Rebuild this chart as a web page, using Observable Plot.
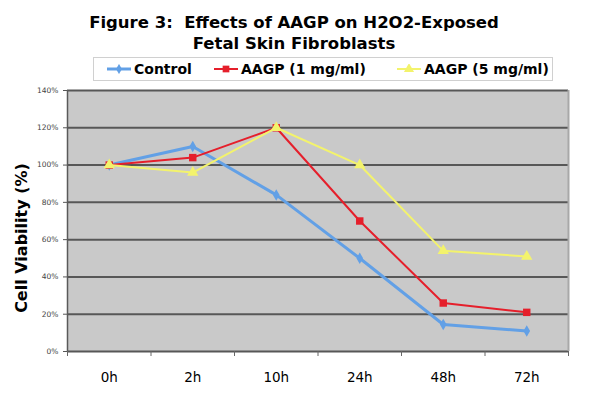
<!DOCTYPE html>
<html><head><meta charset="utf-8">
<script src="https://cdn.jsdelivr.net/npm/d3@7"></script>
<script src="https://cdn.jsdelivr.net/npm/@observablehq/plot@0.6"></script>
<style>
body{margin:0;background:#fff;font-family:"DejaVu Sans",Verdana,sans-serif;}
#wrap{position:relative;width:603px;height:396px;overflow:hidden;}
#title{position:absolute;left:0;top:12px;width:588px;text-align:center;font-weight:bold;font-size:16.5px;line-height:21px;color:#000;}
#legend{position:absolute;left:93px;top:57px;width:460px;height:24px;border:1px solid #d0d0d0;background:#fff;box-sizing:border-box;}
.item{position:absolute;top:0;height:22px;display:flex;align-items:center;font-weight:bold;font-size:14px;white-space:nowrap;}
.item svg{margin-right:3px;}
#ylabel{position:absolute;left:21px;top:238px;transform:translate(-50%,-50%) rotate(-90deg);white-space:nowrap;font-size:16px;font-weight:bold;z-index:2;}
#chart{position:absolute;left:0;top:84px;z-index:1;}
</style></head>
<body>
<div id="wrap">
  <div id="title"></div>
  <div id="legend"></div>
  <div id="ylabel"></div>
  <div id="chart"></div>
</div>
<script>
const titleLines = ["Figure 3:\u00a0 Effects of AAGP on H2O2-Exposed", "Fetal Skin Fibroblasts"];
const yAxisTitle = "Cell Viability (%)";
const times = ["0h", "2h", "10h", "24h", "48h", "72h"];
const seriesNames = ["Control", "AAGP (1 mg/ml)", "AAGP (5 mg/ml)"];
const control = [100, 110, 84, 50, 14.5, 11];
const aagp1 = [100, 104, 120, 70, 26, 21];
const aagp5 = [100, 96, 120, 100, 54, 51];
const yTicks = [0, 20, 40, 60, 80, 100, 120, 140];

const colors = ["#62a0e6", "#e51f2b", "#f3f36c"];
const symbols = ["diamond", "square", "triangle"];
const widths = [3, 2, 2];
const values = [control, aagp1, aagp5];

document.getElementById("title").innerHTML = titleLines.join("<br>");
document.getElementById("ylabel").textContent = yAxisTitle;

// legend
const legend = document.getElementById("legend");
const legendLeft = [13, 120, 303];
seriesNames.forEach((name, k) => {
  const it = document.createElement("div");
  it.className = "item";
  it.style.left = legendLeft[k] + "px";
  const s = d3.create("svg").attr("width", 24).attr("height", 10);
  s.append("line").attr("x1", 0).attr("x2", 24).attr("y1", 5).attr("y2", 5)
    .attr("stroke", colors[k]).attr("stroke-width", widths[k]);
  s.append("path").attr("transform", "translate(12,5)")
    .attr("d", d3.symbol(k === 0 ? d3.symbolDiamond : k === 1 ? d3.symbolSquare : d3.symbolTriangle, k === 0 ? 30 : 45)())
    .attr("fill", colors[k]);
  it.appendChild(s.node());
  const t = document.createElement("span");
  t.textContent = name;
  it.appendChild(t);
  legend.appendChild(it);
});

const rows = [];
seriesNames.forEach((name, k) => {
  values[k].forEach((v, i) => rows.push({series: name, k, x: i + 0.5, t: times[i], v}));
});

const marks = [
  Plot.frame({fill: "#c9c9c9", stroke: null}),
  Plot.ruleY(yTicks, {stroke: "#575757", strokeWidth: 2}),
  Plot.ruleX([0], {stroke: "#5a5a5a", strokeWidth: 1.5}),
  Plot.ruleX([times.length], {stroke: "#a8a8a8", strokeWidth: 2}),
  Plot.axisY({ticks: yTicks, tickSize: 4, tickPadding: 5, tickFormat: d => d + "%", fontSize: 7.5, label: null, stroke: "#555", fill: "#444"}),
  Plot.axisX({ticks: d3.range(times.length + 1), tickSize: 5, tickFormat: () => "", label: null, stroke: "#666"}),
  Plot.axisX({ticks: times.map((t, i) => i + 0.5), tickSize: 0, tickPadding: 21, tickFormat: d => times[Math.floor(d)], fontSize: 13.5, label: null, fill: "#000"})
];
seriesNames.forEach((name, k) => {
  const d = rows.filter(r => r.k === k);
  marks.push(Plot.line(d, {x: "x", y: "v", stroke: colors[k], strokeWidth: widths[k]}));
  marks.push(Plot.dot(d, {x: "x", y: "v", symbol: () => symbols[k], fill: colors[k], stroke: null, r: k === 0 ? 3.5 : 4.2}));
});

const chart = Plot.plot({
  width: 603, height: 312,
  marginTop: 6, marginBottom: 45, marginLeft: 67, marginRight: 35,
  x: {domain: [0, times.length]},
  y: {domain: [0, 140]},
  symbol: {type: "identity"},
  style: {fontFamily: "DejaVu Sans, Verdana, sans-serif", background: "transparent"},
  marks
});
document.getElementById("chart").appendChild(chart);
</script>
</body></html>
